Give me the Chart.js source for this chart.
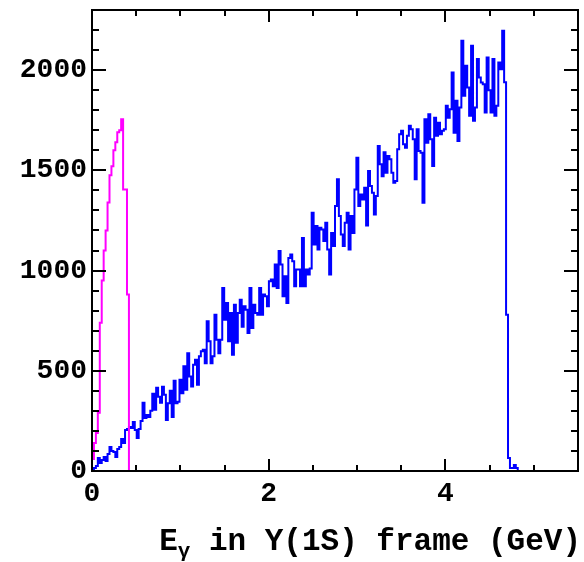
<!DOCTYPE html>
<html>
<head>
<meta charset="utf-8">
<script src="https://cdn.jsdelivr.net/npm/chart.js@4/dist/chart.umd.min.js"></script>
<style>
  html, body { margin: 0; padding: 0; background: #fff; }
  #wrap { width: 584px; height: 562px; position: relative; }
</style>
</head>
<body>
<div id="wrap"><canvas id="c"></canvas></div>
<script>
// ---- data ----
const binWidth = 0.022;          // GeV per bin
const xMin = 0, xMax = 5.5;
const yMin = 0, yMax = 2300;
const xTickLabels = [0, 2, 4];
const yTickLabels = [0, 500, 1000, 1500, 2000];
const xTitleMain = "E";
const xTitleSub = "\u03B3";
const xTitleRest = " in Y(1S) frame (GeV)";

// magenta histogram (bins from 0 GeV)
const magentaCounts = [20, 60, 140, 190, 290, 740, 950, 1100, 1200, 1340, 1475, 1520, 1600, 1640, 1690, 1700, 1755, 1405, 1405, 880, 0];

// blue histogram (bins from 0 GeV)
const blueCounts = [
  5, 10, 15, 25, 65, 40, 55, 70, 50, 85, 120, 100, 95, 70, 110, 120, 160, 140, 205, 210,
  220, 215, 245, 205, 165, 210, 250, 340, 265, 280, 270, 300, 385, 305, 415, 370, 340, 420, 380,
  255, 338, 400, 270, 450, 338, 345, 455, 388, 522, 405, 588, 472, 422, 530, 555, 430, 572, 597, 605, 538,
  747, 647, 538, 572, 780, 655, 588, 655, 913, 755, 838, 647, 788, 580,
  830, 640, 788, 855, 720, 822, 805, 688, 913, 713, 830, 788, 780, 913, 780, 880, 872, 822, 947, 955,
  922, 1030, 913, 1097, 1030, 872, 972, 838, 1063, 1080, 1047, 922, 1005, 1005, 922, 1163, 922, 1005, 980,
  1010,
  1288, 1130, 1222, 1105, 1213, 1205, 1147, 1238, 1105, 980, 1188, 1122, 1322, 1455, 1272, 1180, 1122, 1238,
  1288, 1105, 1272, 1188, 1405, 1563, 1322, 1380, 1355, 1413, 1225, 1497, 1422, 1388, 1280, 1372, 1622,
  1530, 1470, 1590,
  1488, 1572, 1555, 1488, 1438, 1447, 1605, 1680, 1697, 1630, 1613, 1672, 1722, 1705, 1655, 1455, 1705, 1597,
  1588, 1338, 1755, 1638, 1780, 1655, 1522, 1763, 1672, 1738, 1680, 1697, 1705, 1822, 1763, 1805, 1988,
  1688, 1847, 1647, 1813, 2147, 1872, 2022, 1913, 1772, 2122, 1747, 1813, 2055, 1963, 1938, 1930, 1788, 2063,
  1900, 1788, 2055, 1772, 1822, 2038, 2005, 2197,
  1940, 780, 65, 15, 15, 30, 15,
  0, 0, 0, 0, 0, 0, 0, 0, 0, 0, 0, 0, 0, 0, 0, 0, 0, 0, 0, 0, 0, 0, 0, 0, 0, 0, 0, 0, 0, 0
];

// ---- build step outlines from the bin contents ----
function histPoints(counts) {
  const pts = [{ x: xMin, y: 0 }];
  counts.forEach((v, i) => pts.push({ x: xMin + i * binWidth, y: v }));
  const end = xMin + counts.length * binWidth;
  pts.push({ x: end, y: counts[counts.length - 1] });
  if (end < xMax) pts.push({ x: xMax, y: counts[counts.length - 1] });
  return pts;
}

const FONT = "'Liberation Mono', 'Courier New', monospace";

const frameTicks = {
  id: 'frameTicks',
  afterDatasetsDraw(chart) {
    const { ctx, chartArea: a, scales: { x, y } } = chart;
    ctx.save();
    ctx.strokeStyle = '#000';
    ctx.lineWidth = 2;
    ctx.beginPath();
    for (let i = 0; i * 0.5 <= xMax + 1e-9; i++) {
      const px = Math.round(x.getPixelForValue(i * 0.5));
      const len = (i % 4 === 0) ? 12 : 6;
      ctx.moveTo(px, a.bottom); ctx.lineTo(px, a.bottom - len);
      ctx.moveTo(px, a.top); ctx.lineTo(px, a.top + len);
    }
    for (let i = 0; i * 100 <= yMax; i++) {
      const py = Math.round(y.getPixelForValue(i * 100));
      const len = (i % 5 === 0) ? 14 : 7;
      ctx.moveTo(a.left, py); ctx.lineTo(a.left + len, py);
      ctx.moveTo(a.right, py); ctx.lineTo(a.right - len, py);
    }
    ctx.stroke();
    ctx.strokeRect(a.left, a.top, a.right - a.left, a.bottom - a.top);
    ctx.restore();
  },
  afterDraw(chart) {
    const { ctx, chartArea: a } = chart;
    ctx.save();
    ctx.fillStyle = '#000';
    ctx.textBaseline = 'alphabetic';
    const big = "bold 31px " + FONT, small = "bold 21px " + FONT;
    ctx.font = big; const w1 = ctx.measureText(xTitleMain).width; const w3 = ctx.measureText(xTitleRest).width;
    ctx.font = small; const w2 = ctx.measureText(xTitleSub).width;
    let xs = a.right + 3 - (w1 + w2 + w3);
    const base = 550;
    ctx.font = big; ctx.fillText(xTitleMain, xs, base); xs += w1;
    ctx.font = small; ctx.fillText(xTitleSub, xs, base + 7); xs += w2;
    ctx.font = big; ctx.fillText(xTitleRest, xs, base);
    ctx.restore();
  }
};

new Chart(document.getElementById('c'), {
  type: 'line',
  data: {
    datasets: [
      {
        label: 'magenta',
        data: histPoints(magentaCounts),
        borderColor: '#ff00ff',
        borderWidth: 2,
        pointRadius: 0,
        stepped: 'after',
        fill: false,
        order: 0
      },
      {
        label: 'blue',
        data: histPoints(blueCounts),
        borderColor: '#0000ff',
        borderWidth: 2,
        pointRadius: 0,
        stepped: 'after',
        fill: false,
        order: 1
      }
    ]
  },
  options: {
    responsive: true,
    maintainAspectRatio: false,
    animation: false,
    layout: { padding: { top: 10, right: 6, left: 0, bottom: 0 } },
    plugins: { legend: { display: false }, tooltip: { enabled: false } },
    scales: {
      x: {
        type: 'linear',
        min: xMin, max: xMax,
        grid: { display: false, drawTicks: false },
        border: { display: false },
        afterBuildTicks: s => { s.ticks = xTickLabels.map(v => ({ value: v })); },
        afterFit: s => { s.height = 91; s.paddingLeft = 0; s.paddingRight = 0; },
        ticks: {
          padding: 6,
          color: '#000',
          maxRotation: 0,
          font: { family: FONT, size: 28, weight: 'bold' },
          callback: v => String(v)
        }
      },
      y: {
        type: 'linear',
        min: yMin, max: yMax,
        grid: { display: false, drawTicks: false },
        border: { display: false },
        afterBuildTicks: s => { s.ticks = yTickLabels.map(v => ({ value: v })); },
        afterFit: s => { s.width = 92; s.paddingTop = 0; s.paddingBottom = 0; },
        ticks: {
          padding: 5,
          color: '#000',
          font: { family: FONT, size: 28, weight: 'bold' },
          callback: v => String(v)
        }
      }
    }
  },
  plugins: [frameTicks]
});
</script>
</body>
</html>
